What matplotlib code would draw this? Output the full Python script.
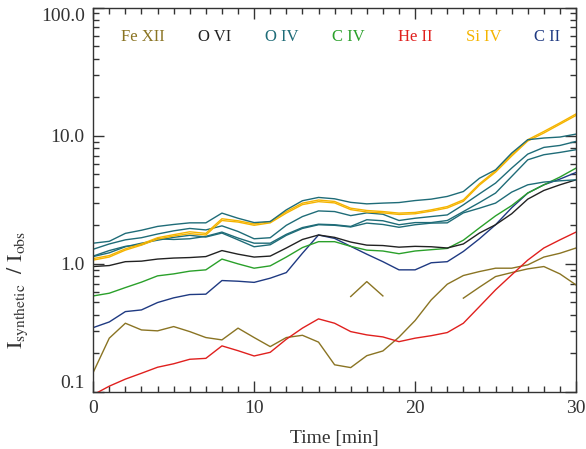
import numpy as np
import matplotlib
matplotlib.use("Agg")
import matplotlib.pyplot as plt
from matplotlib.ticker import FixedLocator, MultipleLocator, NullFormatter, LogLocator

plt.rcParams['font.family'] = ['Liberation Serif', 'DejaVu Serif']
plt.rcParams['mathtext.fontset'] = 'stix'

time_min = np.arange(31)

nan = np.nan

fe_xii = [0.142, 0.263, 0.344, 0.305, 0.300, 0.324, 0.296, 0.266, 0.255, 0.315,
          0.266, 0.226, 0.266, 0.277, 0.245, 0.163, 0.155, 0.192, 0.209, 0.268,
          0.361, 0.523, 0.694, 0.811, 0.871, 0.925, 0.925, 0.982, 1.13, 1.21, 1.33]
fe_xii_b = [nan] * 16 + [0.556, 0.727, 0.562] + [nan] * 12
fe_xii_c = [nan] * 23 + [0.540, 0.658, 0.796, 0.855, 0.914, 0.953, 0.835, 0.685]

o_vi = [0.953, 0.970, 1.04, 1.05, 1.09, 1.11, 1.12, 1.14, 1.27, 1.19,
        1.13, 1.15, 1.33, 1.55, 1.68, 1.61, 1.48, 1.40, 1.39, 1.35,
        1.37, 1.36, 1.33, 1.43, 1.74, 2.02, 2.46, 3.20, 3.74, 4.14, 4.53]

o_iv_a = [1.45, 1.50, 1.73, 1.83, 1.96, 2.03, 2.09, 2.09, 2.49, 2.27,
          2.10, 2.14, 2.64, 3.11, 3.30, 3.22, 3.02, 2.94, 2.98, 3.01,
          3.12, 3.20, 3.36, 3.67, 4.66, 5.42, 7.32, 9.31, 9.60, 9.77, 10.3]
o_iv_b = [1.30, 1.43, 1.54, 1.60, 1.71, 1.81, 1.89, 1.84, 1.98, 1.79,
          1.57, 1.60, 2.00, 2.34, 2.59, 2.56, 2.38, 2.50, 2.44, 2.18,
          2.27, 2.34, 2.41, 2.89, 3.52, 4.27, 5.59, 7.19, 8.11, 8.40, 9.03]
o_iv_c = [1.15, 1.27, 1.37, 1.41, 1.57, 1.55, 1.57, 1.64, 1.77, 1.59,
          1.45, 1.45, 1.70, 1.92, 2.04, 2.02, 1.96, 2.21, 2.17, 2.02,
          2.10, 2.10, 2.18, 2.56, 3.01, 3.57, 4.81, 6.49, 7.11, 7.41, 7.78]
o_iv_d = [1.14, 1.22, 1.36, 1.45, 1.53, 1.61, 1.67, 1.62, 1.74, 1.54,
          1.36, 1.41, 1.67, 1.89, 2.02, 2.00, 1.94, 2.08, 2.03, 1.93,
          2.02, 2.08, 2.09, 2.50, 2.72, 2.98, 3.63, 4.14, 4.35, 4.45, 4.53]

c_iv = [0.562, 0.590, 0.653, 0.720, 0.806, 0.835, 0.877, 0.898, 1.09, 1.00,
        0.925, 0.965, 1.13, 1.34, 1.49, 1.49, 1.37, 1.28, 1.26, 1.20,
        1.26, 1.29, 1.32, 1.53, 1.91, 2.37, 2.85, 3.57, 4.14, 4.76, 5.59]

he_ii = [0.095, 0.111, 0.126, 0.140, 0.156, 0.166, 0.180, 0.183, 0.229, 0.210,
         0.191, 0.204, 0.258, 0.315, 0.372, 0.344, 0.296, 0.279, 0.269, 0.247,
         0.263, 0.275, 0.291, 0.344, 0.464, 0.627, 0.820, 1.07, 1.33, 1.54, 1.77]

si_iv_a = [1.10, 1.16, 1.31, 1.43, 1.60, 1.69, 1.78, 1.73, 2.25, 2.17,
           2.05, 2.14, 2.56, 2.98, 3.15, 3.07, 2.72, 2.61, 2.56, 2.49,
           2.52, 2.64, 2.80, 3.16, 4.22, 5.33, 7.11, 9.31, 10.8, 12.6, 14.8]
si_iv_b = [1.07, 1.13, 1.28, 1.40, 1.56, 1.65, 1.72, 1.68, 2.18, 2.12,
           2.00, 2.09, 2.49, 2.90, 3.06, 2.99, 2.65, 2.54, 2.50, 2.43,
           2.46, 2.58, 2.73, 3.08, 4.12, 5.20, 6.94, 9.10, 10.5, 12.3, 14.4]

c_ii = [0.318, 0.352, 0.424, 0.437, 0.499, 0.543, 0.576, 0.580, 0.741, 0.732,
        0.717, 0.773, 0.855, 1.21, 1.68, 1.58, 1.37, 1.19, 1.04, 0.898,
        0.898, 1.02, 1.04, 1.25, 1.57, 2.02, 2.74, 3.57, 4.14, 4.59, 5.17]

ion_labels = ['Fe XII', 'O VI', 'O IV', 'C IV', 'He II', 'Si IV', 'C II']
ion_colors = ['#8a7423', '#222222', '#1f6c78', '#2aa02a', '#e0201e', '#f5b400', '#1f3a82']
c_fe, c_ovi, c_oiv, c_civ, c_heii, c_siiv, c_cii = ion_colors

fig = plt.figure(figsize=(5.86, 4.49), dpi=100)
ax = fig.add_axes([0.159, 0.127, 0.824, 0.856])

lw = 1.0
for series in (fe_xii, fe_xii_b, fe_xii_c):
    ax.plot(time_min, series, color=c_fe, lw=lw)
ax.plot(time_min, he_ii, color=c_heii, lw=lw)
ax.plot(time_min, c_ii, color=c_cii, lw=lw)
ax.plot(time_min, c_iv, color=c_civ, lw=lw)
ax.plot(time_min, o_vi, color=c_ovi, lw=lw)
for series in (o_iv_d, o_iv_c, o_iv_b):
    ax.plot(time_min, series, color=c_oiv, lw=lw)
ax.plot(time_min, si_iv_b, color=c_siiv, lw=lw)
ax.plot(time_min, si_iv_a, color=c_siiv, lw=lw)
ax.plot(time_min, o_iv_a, color=c_oiv, lw=lw)

ax.set_yscale('log')
ax.set_xlim(0, 30)
ax.set_ylim(0.1, 100)

ax.xaxis.set_major_locator(FixedLocator([0, 10, 20, 30]))
ax.xaxis.set_minor_locator(MultipleLocator(1))
ax.set_xticklabels(['0', '10', '20', '30'])
ax.yaxis.set_major_locator(FixedLocator([0.1, 1, 10, 100]))
ax.set_yticklabels(['0.1', '1.0', '10.0', '100.0'])
ax.yaxis.set_minor_locator(LogLocator(base=10, subs=np.arange(2, 10)))
ax.yaxis.set_minor_formatter(NullFormatter())

axis_color = '#333333'
for sp in ax.spines.values():
    sp.set_color(axis_color)
    sp.set_linewidth(1.0)
ax.tick_params(which='both', direction='in', top=True, right=True,
               color=axis_color, labelcolor='#333333', labelsize=14)
ax.tick_params(which='major', length=8, width=1.0, pad=6)
ax.tick_params(which='minor', length=4, width=1.0)

# keep the end labels of the y axis inside the frame
ylabels = ax.get_yticklabels()
ylabels[0].set_va('bottom')
ylabels[-1].set_va('top')

ax.set_xlabel('Time [min]', fontsize=14, color='#333333', labelpad=9)
fig.text(18 / 586, 1 - 290 / 449,
         r'$\mathrm{I}_{\mathrm{synthetic}}\ \ /\ \mathrm{I}_{\mathrm{obs}}$',
         fontsize=16, color='#333333', rotation=90, ha='center', va='center')

label_x = [143, 215, 282, 348, 415, 484, 547]
for name, color, px in zip(ion_labels, ion_colors, label_x):
    ax.text((px - 93.3) / 482.7, 0.924, name, color=color, fontsize=12,
            ha='center', va='center', transform=ax.transAxes)

fig.savefig('out.png', dpi=100)
